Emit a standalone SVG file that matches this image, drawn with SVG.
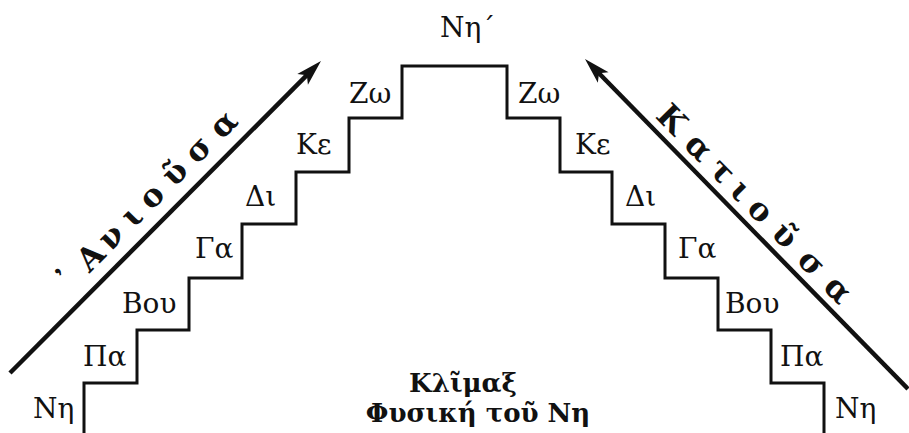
<svg xmlns="http://www.w3.org/2000/svg" width="909" height="433" viewBox="0 0 909 433">
<style>
text{font-family:"DejaVu Serif",serif}
.lbl{font-size:28px;fill:#111}
.rot{font-size:32px;font-weight:bold;fill:#111}
.ttl{font-size:26px;font-weight:bold;fill:#111}
.step{fill:none;stroke:#111;stroke-width:3;stroke-linejoin:miter}
.arr{fill:none;stroke:#111;stroke-width:4.5}
</style>
<defs>
<marker id="ah" markerUnits="userSpaceOnUse" markerWidth="40" markerHeight="40" viewBox="-20 -20 40 40" refX="0" refY="0" orient="auto" overflow="visible">
<path d="M14,0 L-12,-7.5 L-6,0 L-12,7.5 Z" fill="#111"/>
</marker>
</defs>
<g id="connectors">
<path id="stairs" class="step" d="M84,433 V383 H137 V330 H189 V278 H242 V224 H296 V172 H349 V118 H402 V66 H507 V118 H560 V172 H612 V224 H665 V278 H718 V330 H771 V383 H824 V433"/>
<line id="arrow-up" class="arr" x1="10" y1="373" x2="311.1" y2="70.9" marker-end="url(#ah)"/>
<line id="arrow-down" class="arr" x1="908" y1="389" x2="594.8" y2="69" marker-end="url(#ah)"/>
</g>
<g id="left-labels" class="lbl">
<text x="33" y="418">Νη</text>
<text x="83" y="366">Πα</text>
<text x="122" y="313">Βου</text>
<text x="195" y="258">Γα</text>
<text x="245" y="206">Δι</text>
<text x="296" y="154">Κε</text>
<text x="349" y="103">Ζω</text>
</g>
<g id="top-label" class="lbl"><text x="440" y="37">Νη΄</text></g>
<g id="right-labels" class="lbl">
<text x="518" y="103">Ζω</text>
<text x="575" y="154">Κε</text>
<text x="625" y="206">Δι</text>
<text x="678" y="258">Γα</text>
<text x="725" y="313">Βου</text>
<text x="780" y="366">Πα</text>
<text x="835" y="418">Νη</text>
</g>
<g id="anabasis" transform="translate(0.1,363.1) rotate(-45.09)">
<text class="rot" text-anchor="middle" x="106 139 168 197 225 258 291 327" y="0">᾿Ανιοῦσα</text>
</g>
<g id="katabasis" transform="translate(591.4,52.7) rotate(45.6)">
<text class="rot" text-anchor="middle" x="104 143 176 203 231 266 304 342" y="0">Κατιοῦσα</text>
</g>
<g id="title" class="ttl">
<text x="463" y="392" text-anchor="middle">Κλῖμαξ</text>
<text x="478" y="422" text-anchor="middle">Φυσική τοῦ Νη</text>
</g>
</svg>
